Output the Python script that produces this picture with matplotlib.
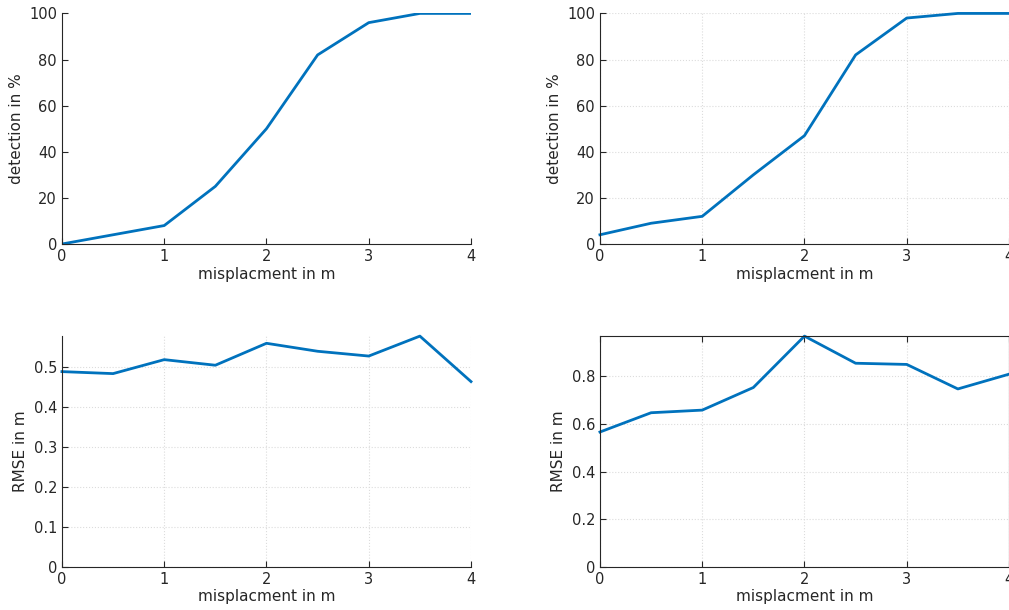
import matplotlib
matplotlib.use('Agg')
import matplotlib.pyplot as plt
from matplotlib.ticker import FuncFormatter

misplacement = [0, 0.5, 1, 1.5, 2, 2.5, 3, 3.5, 4]

detection_left = [0, 4, 8, 25, 50, 82, 96, 100, 100]
detection_right = [4, 9, 12, 30, 47, 82, 98, 100, 100]

rmse_left = [0.489, 0.484, 0.519, 0.505, 0.560, 0.540, 0.528, 0.578, 0.464]
rmse_right = [0.566, 0.647, 0.658, 0.753, 0.969, 0.855, 0.850, 0.747, 0.809]

LINE_COLOR = '#0072BD'
AX_COLOR = '#262626'

plt.rcParams['font.family'] = 'DejaVu Sans'
plt.rcParams['font.size'] = 10

fig = plt.figure(figsize=(10.09, 6.10), dpi=100)


def _style(ax, grid, box):
    for side in ['left', 'bottom', 'top', 'right']:
        ax.spines[side].set_color(AX_COLOR)
        ax.spines[side].set_linewidth(0.8)
    if not box:
        ax.spines['top'].set_visible(False)
        ax.spines['right'].set_visible(False)
    ax.tick_params(direction='in', length=4, width=0.8, colors=AX_COLOR,
                   labelsize=10.5, top=box, right=False)
    if grid:
        ax.grid(True, linestyle=':', color='#dcdcdc', linewidth=0.8)
        ax.set_axisbelow(True)
    ax.set_xlim(0, 4)
    ax.set_xticks([0, 1, 2, 3, 4])
    ax.yaxis.set_major_formatter(FuncFormatter(lambda v, _: f'{v:g}'))
    ax.set_xlabel('misplacment in m', fontsize=11, color=AX_COLOR, labelpad=2)


w = 0.4054
h = 0.378

ax1 = fig.add_axes([0.0614, 0.6, w, h])
ax1.plot(misplacement, detection_left, color=LINE_COLOR, linewidth=2)
ax1.set_ylim(0, 100)
ax1.set_ylabel('detection in %', fontsize=11, color=AX_COLOR)
_style(ax1, grid=False, box=False)

ax2 = fig.add_axes([0.5946, 0.6, w, h])
ax2.plot(misplacement, detection_right, color=LINE_COLOR, linewidth=2, clip_on=False)
ax2.set_ylim(0, 100)
ax2.set_ylabel('detection in %', fontsize=11, color=AX_COLOR)
_style(ax2, grid=True, box=False)

ax3 = fig.add_axes([0.0614, 0.071, w, h])
ax3.plot(misplacement, rmse_left, color=LINE_COLOR, linewidth=2, clip_on=False)
ax3.set_ylim(0, max(rmse_left))
ax3.set_yticks([0, 0.1, 0.2, 0.3, 0.4, 0.5])
ax3.set_ylabel('RMSE in m', fontsize=11, color=AX_COLOR)
_style(ax3, grid=True, box=False)

ax4 = fig.add_axes([0.5946, 0.071, w, h])
ax4.plot(misplacement, rmse_right, color=LINE_COLOR, linewidth=2, clip_on=False)
ax4.set_ylim(0, max(rmse_right))
ax4.set_yticks([0, 0.2, 0.4, 0.6, 0.8])
ax4.set_ylabel('RMSE in m', fontsize=11, color=AX_COLOR)
_style(ax4, grid=True, box=True)

fig.savefig('out.png', dpi=100)
